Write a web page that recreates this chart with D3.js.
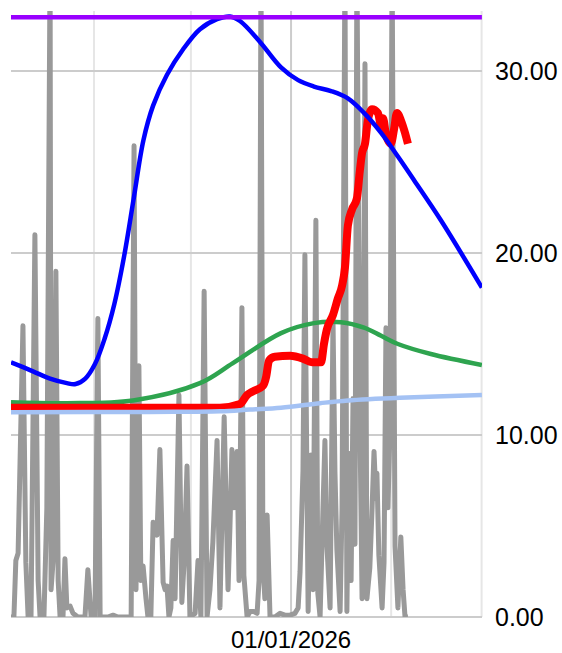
<!DOCTYPE html>
<html>
<head>
<meta charset="utf-8">
<script src="https://cdn.jsdelivr.net/npm/d3@7"></script>
<style>
  html, body { margin: 0; padding: 0; background: #fff; }
  svg { display: block; font-family: "Liberation Sans", Arial, sans-serif; }
</style>
</head>
<body>
<div id="chart"></div>
<script>
// x values are days after seriesStart
var seriesStart = Date.UTC(2025, 9, 6, 7);
var seriesEnd = Date.UTC(2026, 2, 1, 3);
var yTicks = [0, 10, 20, 30];

var usage = [
  [0, 0], [0.9, 0], [1.5, 3.1], [2.2, 3.5], [3.7, 16], [4.6, 3], [5.3, 0], [6.2, 0],
  [7.4, 21], [8.4, 2], [9.0, 0], [10.2, 0], [11.1, 6], [12.1, 36], [12.4, 1.5], [13.0, 3],
  [13.9, 19], [14.6, 2], [15.2, 0], [16.1, 0], [16.7, 3.2], [17.3, 0.5], [18.3, 0.6], [19.2, 0.2],
  [20.7, 0], [22.9, 0], [23.8, 2.6], [24.8, 0], [26.0, 0], [26.9, 16.4], [27.6, 0], [30.0, 0],
  [31.6, 0.1], [33.1, 0], [37.2, 0], [38.1, 25.9], [38.7, 1.5], [39.6, 13.8], [40.2, 2], [40.9, 2.8],
  [41.8, 1], [42.4, 0], [43.3, 0], [44.0, 5.2], [44.6, 5], [45.2, 4.5], [46.1, 9.2], [47.1, 1.9],
  [47.7, 1.5], [48.3, 1.7], [48.9, 0], [49.5, 0.5], [50.2, 4.2], [50.8, 1], [52.0, 12.2], [52.9, 0.8],
  [53.6, 3], [54.5, 8.3], [55.4, 0], [57.0, 0.2], [57.9, 3.1], [58.8, 0], [59.8, 17.9], [60.7, 0],
  [61.6, 1.5], [62.5, 4.1], [63.8, 9.7], [64.7, 0.5], [66.0, 11], [67.2, 1.5], [67.8, 5], [68.4, 9.2],
  [69.0, 6], [70.0, 9.1], [70.6, 2], [71.5, 17], [72.1, 2.3], [73.1, 0], [74.0, 0.3], [75.2, 0.3],
  [76.2, 0.2], [76.8, 2], [77.4, 36], [78.0, 3], [78.6, 1], [79.3, 5.6], [80.2, 0], [81.7, 0],
  [83.3, 0.2], [84.8, 0.1], [86.4, 0.1], [87.9, 0.2], [88.9, 0.5], [89.5, 2.5], [90.4, 8], [91.0, 19.9],
  [92.0, 0.3], [92.9, 8.9], [93.5, 1.5], [94.4, 21.8], [95.0, 1.3], [95.7, 0], [96.6, 6], [97.2, 9.7],
  [97.8, 4], [98.8, 0.5], [99.7, 16.3], [100.3, 8], [100.9, 3.7], [101.9, 0.3], [102.5, 6], [103.4, 36],
  [104.0, 0.3], [104.6, 9], [105.3, 2], [105.9, 12], [106.5, 4], [107.1, 36], [108.0, 11.2], [108.7, 1],
  [109.6, 30.4], [110.2, 1], [111.1, 2.7], [111.8, 6], [112.4, 9.1], [113.0, 6.5], [113.3, 7.9], [113.9, 3.4],
  [114.9, 0.5], [115.5, 3], [116.1, 15.9], [116.7, 6], [117.3, 10], [118.0, 36], [118.9, 3.9], [119.8, 0.5],
  [120.7, 4.4], [121.4, 1.5], [122.0, 0], [122.9, 0]
];

var level = [
  [0, 11.5], [64.7, 11.5], [70.9, 11.7], [73.1, 12.2], [74.9, 12.4], [78.0, 12.7], [79.0, 13.2],
  [79.9, 14.1], [81.7, 14.3], [86.4, 14.35], [90.4, 14.2], [93.2, 14.0], [96.0, 14.0], [96.9, 15.0],
  [97.8, 15.8], [99.7, 16.6], [101.2, 17.5], [102.5, 18.2], [103.4, 19.2], [104.3, 21.5], [105.6, 22.4],
  [107.1, 23.0], [108.0, 24.5], [108.7, 25.5], [109.6, 26.0], [110.5, 27.3], [111.8, 27.9], [113.6, 27.7],
  [114.6, 27.0], [115.2, 27.4], [116.1, 26.5], [116.7, 26.2], [117.6, 26.0], [118.6, 26.8], [119.5, 27.7],
  [120.7, 27.3], [122.0, 26.6], [122.9, 26.0]
];

var trendFast = [
  [0, 14.0], [6.8, 13.5], [12.1, 13.1], [17.3, 12.85], [20.0, 12.8], [23.0, 13.1], [26.0, 13.9],
  [29.0, 15.3], [32.0, 17.2], [35.0, 19.8], [38.0, 23.0], [41.0, 26.2], [44.0, 28.1], [48.3, 29.8],
  [53.3, 31.2], [58.5, 32.3], [63.8, 32.85], [67.8, 33.0], [70.9, 32.75], [77.1, 31.6], [83.6, 30.2],
  [88.9, 29.5], [93.8, 29.15], [99.1, 28.9], [104.3, 28.5], [109.3, 27.7], [114.6, 26.6],
  [119.8, 25.3], [124.8, 24.0], [133.1, 21.8], [145.8, 18.1]
];

var trendMid = [
  [0, 11.8], [17.3, 11.75], [37.8, 11.9], [58.5, 12.85], [68.7, 13.95], [83.6, 15.6], [93.8, 16.15],
  [102.2, 16.2], [109.3, 15.9], [114.6, 15.45], [119.8, 15.0], [130.0, 14.45], [145.8, 13.85]
];

var trendSlow = [
  [0, 11.25], [43.0, 11.27], [64.7, 11.3], [74.0, 11.4], [83.6, 11.5], [95.7, 11.75],
  [104.3, 11.9], [120.4, 12.05], [145.8, 12.2]
];

var ceiling = [[0, 32.95], [145.8, 32.95]];

var w = 562;
var h = 653;
var plotLeft = 11, plotRight = 482, plotTop = 11, plotBottom = 617;

var svg = d3.select("#chart").append("svg")
  .attr("width", w)
  .attr("height", h);

var xScale = d3.scaleUtc()
  .domain([new Date(seriesStart), new Date(seriesEnd)])
  .range([plotLeft, plotRight]);

var yScale = d3.scaleLinear()
  .domain([0, 33.3])
  .range([plotBottom, plotTop]);

var dayMs = 24 * 3600 * 1000;
function toDate(d) { return new Date(seriesStart + d * dayMs); }

// gridlines
var monthTicks = xScale.ticks(d3.utcMonth.every(1));
svg.append("g").selectAll("line")
  .data(monthTicks)
  .enter().append("line")
  .attr("x1", d => xScale(d)).attr("x2", d => xScale(d))
  .attr("y1", plotTop).attr("y2", plotBottom)
  .attr("stroke", d => d.getUTCMonth() === 0 ? "#cccccc" : "#e6e6e6")
  .attr("stroke-width", 2);

svg.append("g").selectAll("line")
  .data(yTicks)
  .enter().append("line")
  .attr("x1", plotLeft).attr("x2", plotRight)
  .attr("y1", d => yScale(d)).attr("y2", d => yScale(d))
  .attr("stroke", "#cccccc")
  .attr("stroke-width", 2);

svg.append("clipPath").attr("id", "plotClip")
  .append("rect")
  .attr("x", plotLeft).attr("y", plotTop)
  .attr("width", plotRight - plotLeft).attr("height", plotBottom - plotTop);

var plot = svg.append("g").attr("clip-path", "url(#plotClip)");

var straight = d3.line()
  .x(d => xScale(toDate(d[0])))
  .y(d => yScale(d[1]));

var smooth = d3.line()
  .x(d => xScale(toDate(d[0])))
  .y(d => yScale(d[1]))
  .curve(d3.curveCatmullRom.alpha(0.5));

var stepped = d3.line()
  .x(d => xScale(toDate(d[0])))
  .y(d => yScale(d[1]))
  .curve(d3.curveMonotoneX);

plot.append("path").datum(usage)
  .attr("d", straight)
  .attr("fill", "none")
  .attr("stroke", "#999999")
  .attr("stroke-width", 5)
  .attr("stroke-linejoin", "round");

plot.append("path").datum(trendMid)
  .attr("d", smooth)
  .attr("fill", "none")
  .attr("stroke", "#2ea44f")
  .attr("stroke-width", 4.5);

plot.append("path").datum(level)
  .attr("d", stepped)
  .attr("fill", "none")
  .attr("stroke", "#ff0000")
  .attr("stroke-width", 8)
  .attr("stroke-linejoin", "round");

plot.append("path").datum(trendSlow)
  .attr("d", smooth)
  .attr("fill", "none")
  .attr("stroke", "#a4c2f4")
  .attr("stroke-width", 4.5);

plot.append("path").datum(trendFast)
  .attr("d", smooth)
  .attr("fill", "none")
  .attr("stroke", "#0000ff")
  .attr("stroke-width", 4.5);

plot.append("path").datum(ceiling)
  .attr("d", straight)
  .attr("fill", "none")
  .attr("stroke", "#9900ff")
  .attr("stroke-width", 4.5);

// y axis labels on the right
svg.append("g").selectAll("text")
  .data(yTicks)
  .enter().append("text")
  .attr("x", 495)
  .attr("y", d => yScale(d))
  .attr("dy", "0.36em")
  .attr("font-size", "25px")
  .attr("fill", "#000")
  .text(d => d3.format(".2f")(d));

// x axis: only the year start is labelled
svg.append("g").selectAll("text")
  .data(monthTicks.filter(d => d.getUTCMonth() === 0))
  .enter().append("text")
  .attr("x", d => xScale(d))
  .attr("y", 648)
  .attr("text-anchor", "middle")
  .attr("font-size", "24px")
  .attr("fill", "#000")
  .text(d => d3.utcFormat("%m/%d/%Y")(d));
</script>
</body>
</html>
